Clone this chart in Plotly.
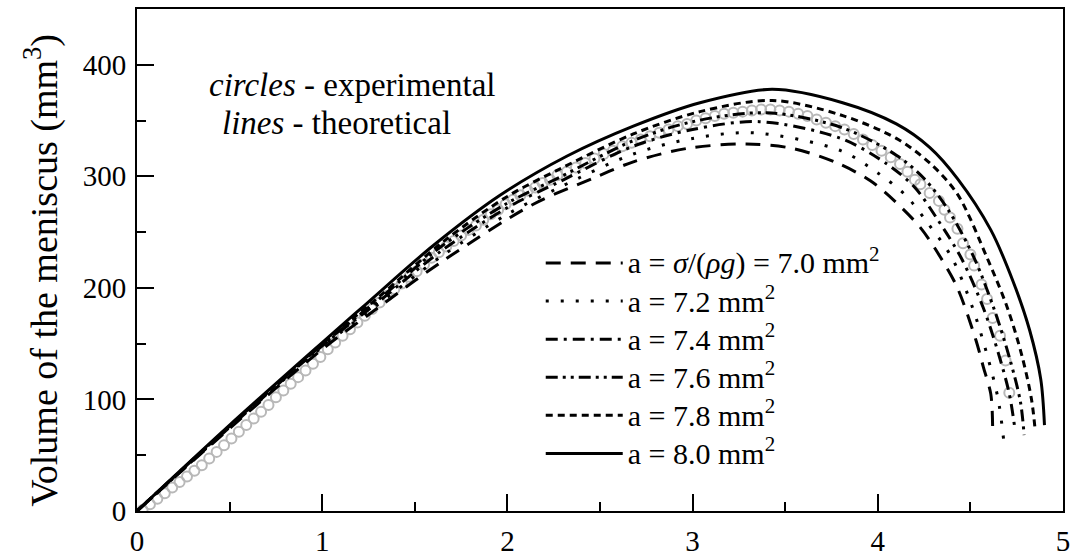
import plotly.graph_objects as go

# theoretical curves, a = 7.0 ... 8.0 mm^2 (height in mm, volume in mm^3)
x_70 = [0, 0.5, 1.0, 1.3, 1.65, 2.14, 2.46, 2.68, 2.97, 3.29, 3.54, 3.78, 3.96, 4.09, 4.23, 4.34, 4.43, 4.53, 4.57, 4.61, 4.62]
v_70 = [0, 74, 145, 182, 224, 275, 298, 313, 325, 329, 325, 312, 296, 278, 254, 227, 200, 153, 129, 105, 76]

x_72 = [0, 0.5, 1.0, 1.3, 1.65, 2.0, 2.28, 2.68, 3.0, 3.33, 3.8, 4.0, 4.15, 4.27, 4.40, 4.51, 4.59, 4.65, 4.68]
v_72 = [0, 75, 147, 185, 229, 266, 290, 320, 334, 339, 323, 303, 283, 258, 227, 183, 140, 100, 63]

x_74 = [0, 0.5, 1.0, 1.3, 1.65, 2.0, 2.28, 2.68, 3.0, 3.36, 3.8, 4.05, 4.2, 4.32, 4.45, 4.57, 4.65, 4.71, 4.74]
v_74 = [0, 75, 148, 187, 234, 272, 295, 327, 342, 349, 334, 311, 290, 262, 227, 182, 142, 105, 74]

x_76 = [0, 0.5, 1.0, 1.3, 1.65, 2.0, 2.28, 2.68, 3.0, 3.40, 3.8, 4.1, 4.25, 4.38, 4.52, 4.63, 4.71, 4.77, 4.79]
v_76 = [0, 76, 149, 189, 238, 276, 299, 332, 349, 357, 344, 319, 298, 270, 227, 180, 138, 98, 68]

x_78 = [0, 0.5, 1.0, 1.3, 1.65, 2.0, 2.3, 2.68, 3.04, 3.43, 3.8, 4.1, 4.28, 4.43, 4.59, 4.70, 4.78, 4.83, 4.85]
v_78 = [0, 76, 150, 191, 241, 282, 308, 338, 358, 368, 355, 334, 312, 284, 227, 182, 138, 100, 72]

x_80 = [0, 0.5, 1.0, 1.24, 1.6, 1.96, 2.32, 2.68, 3.04, 3.43, 3.81, 4.10, 4.28, 4.43, 4.61, 4.73, 4.82, 4.88, 4.90]
v_80 = [0, 77, 151, 186, 238, 283, 318, 345, 366, 378, 366, 347, 326, 298, 252, 206, 162, 118, 77]

# experimental points
x_exp = [0.03, 0.07, 0.11, 0.15, 0.19, 0.23, 0.27, 0.31, 0.35, 0.39, 0.43, 0.47, 0.51, 0.55, 0.59,
         0.63, 0.67, 0.71, 0.75, 0.79, 0.83, 0.87, 0.91, 0.95, 0.99, 1.03, 1.07, 1.11, 1.15, 1.19,
         1.23, 1.27, 1.31, 1.35, 1.39, 1.43, 1.47, 1.51, 1.55, 1.59, 1.63, 1.67, 1.71, 1.75, 1.79,
         1.83, 1.87, 1.91, 1.95, 1.99, 2.03, 2.07, 2.11, 2.15, 2.19, 2.23, 2.27, 2.32, 2.37, 2.42,
         2.47, 2.52, 2.57, 2.62, 2.67, 2.72, 2.77, 2.82, 2.87, 2.92, 2.97, 3.02, 3.07, 3.12, 3.17,
         3.22, 3.27, 3.32, 3.37, 3.42, 3.47, 3.52, 3.57, 3.62, 3.67, 3.72, 3.77, 3.82, 3.87, 3.92,
         3.97, 4.02, 4.07, 4.12, 4.16, 4.20, 4.23, 4.28, 4.33, 4.36, 4.39, 4.43, 4.46, 4.50, 4.52,
         4.56, 4.59, 4.62, 4.66, 4.69, 4.71]
v_exp = [1, 6, 11, 16, 21, 26, 31, 36, 41, 47, 53, 59, 65, 71, 77,
         83, 89, 95, 102, 108, 114, 120, 126, 132, 138, 145, 151, 157, 163, 169,
         175, 181, 187, 193, 199, 204, 210, 215, 221, 227, 232, 237, 242, 247, 252,
         256, 261, 266, 270, 275, 279, 283, 287, 290, 294, 297, 301, 304, 308, 312,
         316, 320, 323, 327, 330, 333, 336, 339, 342, 345, 347, 350, 352, 354, 356,
         357, 358, 359, 360, 360, 359, 358, 356, 354, 351, 348, 345, 342, 338, 333,
         328, 323, 317, 311, 304, 297, 293, 285, 278, 270, 263, 253, 240, 230, 220,
         203, 190, 173, 157, 135, 106]

labels = ["a = <i>σ</i>/(<i>ρg</i>) = 7.0 mm<sup>2</sup>",
          "a = 7.2 mm<sup>2</sup>",
          "a = 7.4 mm<sup>2</sup>",
          "a = 7.6 mm<sup>2</sup>",
          "a = 7.8 mm<sup>2</sup>",
          "a = 8.0 mm<sup>2</sup>"]

curves = [(x_70, v_70), (x_72, v_72), (x_74, v_74), (x_76, v_76), (x_78, v_78), (x_80, v_80)]
dashes = ["15px,10px", "3px,12px", "12px,6px,3px,6px",
          "12px,5px,3px,5px,3px,5px", "7px,5px", "solid"]

FONT = "Liberation Serif, Times New Roman, serif"

fig = go.Figure()

fig.add_trace(go.Scatter(x=x_exp, y=v_exp, mode="markers", showlegend=False,
                         marker=dict(symbol="circle-open", size=10, color="#b8b8b8",
                                     line=dict(width=2, color="#b8b8b8"))))

for (xs, vs), lab, d in zip(curves, labels, dashes):
    fig.add_trace(go.Scatter(x=xs, y=vs, mode="lines", legendgroup=lab,
                             name='<span style="font-size:30px">' + lab + "</span>",
                             line=dict(color="black", width=3, dash=d,
                                       shape="spline", smoothing=0.9)))

fig.add_annotation(x=0.0756, y=0.849, xref="paper", yref="paper",
                   xanchor="left", yanchor="middle",
                   text="<i>circles</i> - experimental", showarrow=False,
                   font=dict(family=FONT, size=33, color="black"))
fig.add_annotation(x=0.0896, y=0.773, xref="paper", yref="paper",
                   xanchor="left", yanchor="middle",
                   text="<i>lines</i> - theoretical", showarrow=False,
                   font=dict(family=FONT, size=33, color="black"))
# y axis title
fig.add_annotation(x=-0.104, y=0.48, xref="paper", yref="paper",
                   xanchor="center", yanchor="middle", textangle=-90,
                   text="Volume of the meniscus (mm<sup>3</sup>)", showarrow=False,
                   font=dict(family=FONT, size=38, color="black"))

fig.update_layout(
    width=1074, height=556,
    margin=dict(l=137, r=11, t=9, b=45),
    plot_bgcolor="white", paper_bgcolor="white",
    font=dict(family=FONT, size=29, color="black"),
    legend=dict(x=0.436, y=0.542, xanchor="left", yanchor="top",
                bgcolor="rgba(0,0,0,0)", itemwidth=77, tracegroupgap=0,
                font=dict(family=FONT, size=27)),
)
fig.update_xaxes(range=[0, 5], dtick=1, showgrid=False, zeroline=False, automargin=False,
                 showline=True, linewidth=2, linecolor="black", mirror=True,
                 ticks="inside", ticklen=17, tickwidth=2, tickcolor="black",
                 ticklabelstandoff=3,
                 minor=dict(dtick=0.5, ticks="inside", ticklen=9, tickwidth=2, tickcolor="black"))
fig.update_yaxes(range=[0, 450], dtick=100, showgrid=False, zeroline=False, automargin=False,
                 showline=True, linewidth=2, linecolor="black", mirror=True,
                 ticks="inside", ticklen=17, tickwidth=2, tickcolor="black",
                 ticklabelstandoff=3,
                 minor=dict(dtick=50, ticks="inside", ticklen=9, tickwidth=2, tickcolor="black"))

# drop the default page margin so the 1074x556 figure fills the window exactly
fig.write_html("out.html", config={"displayModeBar": False},
               post_script="document.body.style.margin='0';")
